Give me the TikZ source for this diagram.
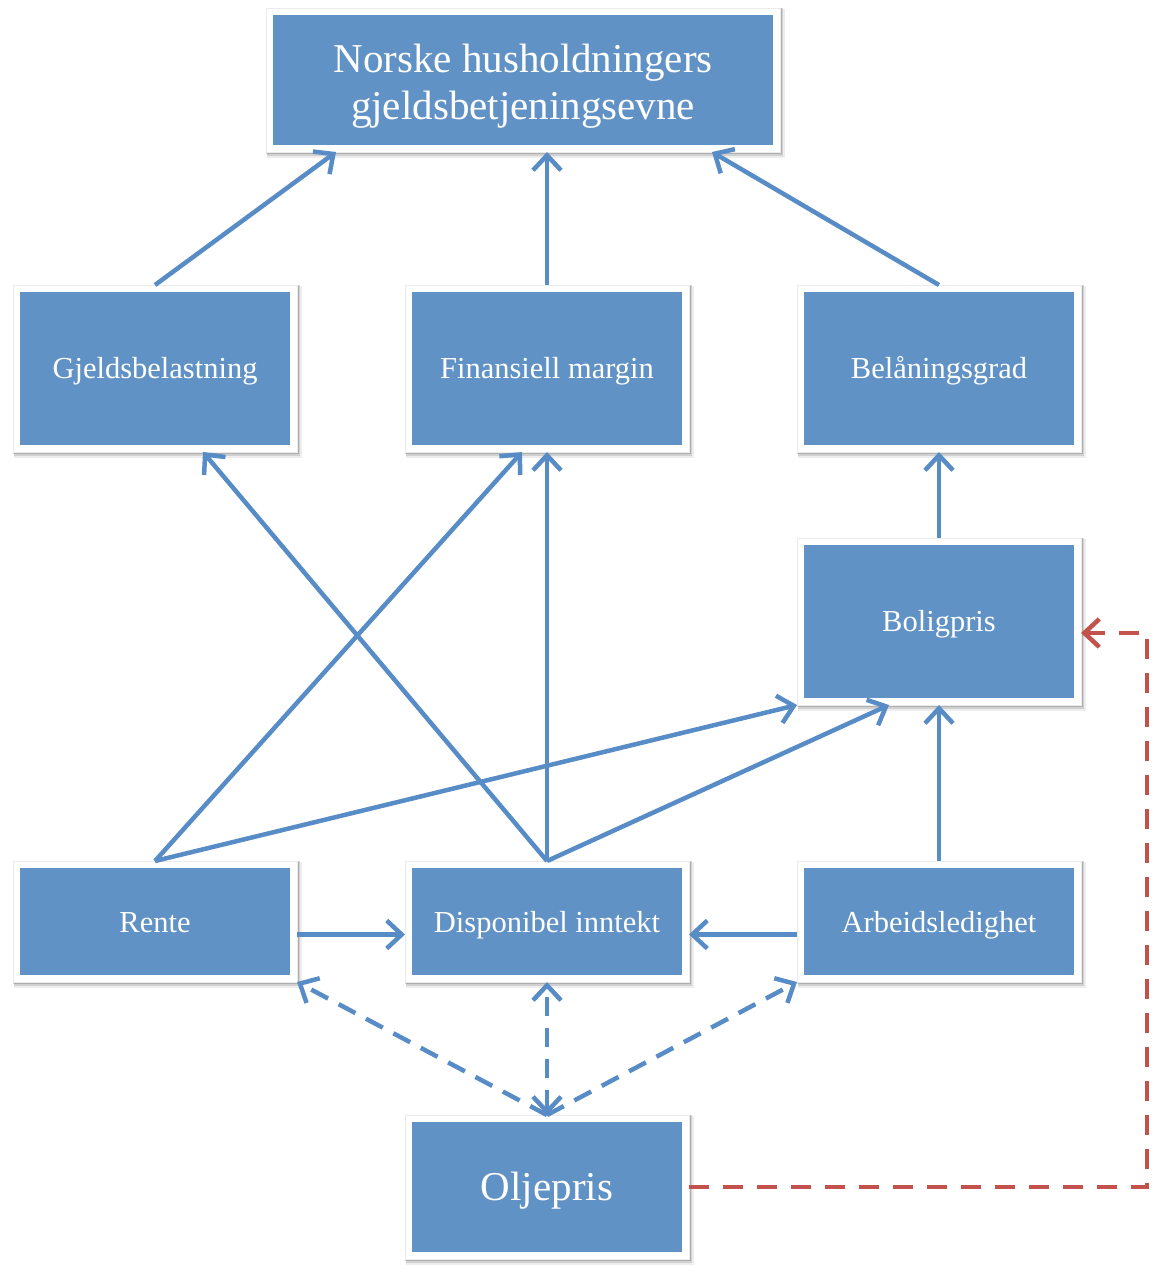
\documentclass[tikz,border=0pt]{standalone}
\usepackage{fontspec}
\setmainfont{Liberation Serif}
\usetikzlibrary{arrows.meta,calc,backgrounds}

\definecolor{boxblue}{RGB}{97,146,198}
\definecolor{linkblue}{RGB}{88,140,198}
\definecolor{linkred}{RGB}{196,82,76}

\begin{document}
\begin{tikzpicture}[x=1pt,y=-1pt,
  box/.style={rectangle, fill=boxblue, text=white, inner sep=0pt,
    outer sep=7pt, minimum width=270pt},
  smallbox/.style={box, minimum height=153pt, font=\fontsize{30.5}{36}\selectfont,
    text height=22pt, text depth=2pt},
  flatbox/.style={box, minimum height=107pt, font=\fontsize{30.5}{36}\selectfont,
    text height=22pt, text depth=1pt},
  bigbox/.style={box, minimum height=130pt, font=\fontsize{41}{47}\selectfont},
  barb/.tip={Straight Barb[length=15pt,width=28pt]},
  link/.style={draw=linkblue, line width=4.5pt, -{barb}},
  dlink/.style={link, dash pattern=on 19pt off 12pt},
  rlink/.style={draw=linkred, line width=4.5pt, dash pattern=on 20pt off 14pt, -{barb}},
]
\useasboundingbox (0,0) rectangle (1167,1275);

% boxes
\node[bigbox, minimum width=500pt, text height=30pt, text depth=46pt] (top) at (523,80)
  {\begin{tabular}[t]{@{}c@{}}Norske husholdningers\\gjeldsbetjeningsevne\end{tabular}};
\node[smallbox] (gjeld) at (155,368.5) {Gjeldsbelastning};
\node[smallbox] (fin) at (547,368.5) {Finansiell margin};
\node[smallbox] (bel) at (939,368.5) {Belåningsgrad};
\node[smallbox] (bolig) at (939,621.5) {Boligpris};
\node[flatbox] (rente) at (155,921.5) {Rente};
\node[flatbox] (disp) at (547,921.5) {Disponibel inntekt};
\node[flatbox] (arb) at (939,921.5) {Arbeidsledighet};
\node[bigbox, text height=30pt, text depth=4pt] (olje) at (547,1187) {Oljepris};

% white frames with a soft shadow behind each box
\begin{scope}[on background layer]
  \foreach \n in {top,gjeld,fin,bel,bolig,rente,disp,arb,olje}{
    \fill[black, opacity=0.07] ([shift={(1pt,-6pt)}]\n.south west) rectangle ([shift={(5pt,-1pt)}]\n.north east);
    \fill[black, opacity=0.12] ([shift={(0.5pt,-4pt)}]\n.south west) rectangle ([shift={(3pt,0pt)}]\n.north east);
    \fill[black, opacity=0.16] ([shift={(0pt,-2pt)}]\n.south west) rectangle ([shift={(1.5pt,0pt)}]\n.north east);
    \fill[white, draw=black!8, line width=0.8pt] (\n.south west) rectangle (\n.north east);
  }
\end{scope}

% links into the top box
\draw[link] (gjeld.north) -- ([xshift=-187pt]top.south);
\draw[link] (fin.north) -- ([xshift=24pt]top.south);
\draw[link] (bel.north) -- ([xshift=189pt]top.south);

% links into the middle row
\draw[link] (disp.north) -- ([xshift=48pt]gjeld.south);
\draw[link] (rente.north) -- ([xshift=-25pt]fin.south);
\draw[link] (disp.north) -- (fin.south);
\draw[link] (bolig.north) -- (bel.south);

% links into Boligpris
\draw[link] (rente.north) -- (bolig.south west);
\draw[link] (disp.north) -- ([xshift=-50pt]bolig.south);
\draw[link] (arb.north) -- (bolig.south);

% links along the bottom row
\draw[link] ([yshift=-13pt]rente.east) -- ([yshift=-13pt]disp.west);
\draw[link] ([yshift=-13pt]arb.west) -- ([yshift=-13pt]disp.east);

% oil price effects
\draw[dlink] (olje.north) -- (rente.south east);
\draw[dlink] (olje.north) -- (arb.south west);
\draw[dlink, {barb}-{barb}] (olje.north) -- (disp.south);
\coordinate (bend) at (1147,633);
\draw[rlink] (olje.east) -| (bend) -- ([yshift=-11.5pt]bolig.east);
\end{tikzpicture}
\end{document}
